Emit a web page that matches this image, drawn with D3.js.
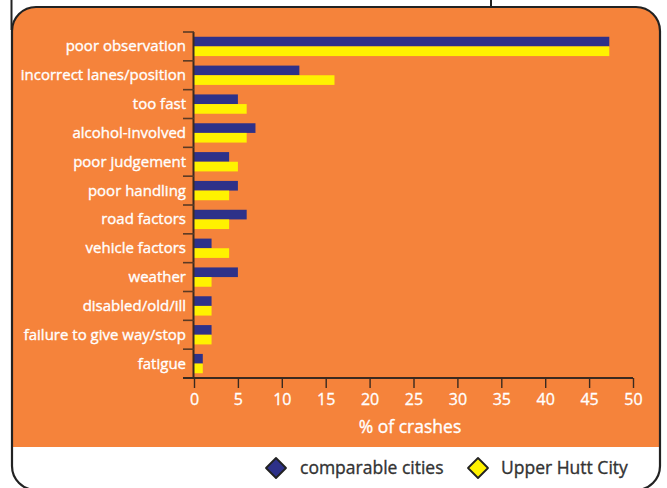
<!DOCTYPE html>
<html><head><meta charset="utf-8">
<script src="https://cdn.jsdelivr.net/npm/d3@7"></script>
<style>html,body{margin:0;padding:0;background:#fff;}svg{display:block;}</style>
</head><body>
<script>
const categories = ["poor observation","incorrect lanes/position","too fast","alcohol-involved","poor judgement","poor handling","road factors","vehicle factors","weather","disabled/old/ill","failure to give way/stop","fatigue"];
const seriesNames = ["comparable cities","Upper Hutt City"];
const comparableCities = [47.3,12,5,7,4,5,6,2,5,2,2,1];
const upperHuttCity = [47.3,16,6,6,5,4,4,4,2,2,2,1];
const xTicks = [0,5,10,15,20,25,30,35,40,45,50];
const axisTitle = "% of crashes";

const W = 667, H = 488;
const navy = "#2e3189", yellow = "#fff200", orange = "#f5833b";
const font = "'Open Sans', sans-serif";

const svg = d3.select("body").append("svg").attr("width", W).attr("height", H);

// frame
const defs = svg.append("defs");
defs.append("clipPath").attr("id","frameClip").append("rect")
  .attr("x",12).attr("y",7).attr("width",648).attr("height",483).attr("rx",24);
svg.append("line").attr("x1",11.5).attr("x2",11.5).attr("y1",0).attr("y2",30).attr("stroke","#222").attr("stroke-width",2);
svg.append("line").attr("x1",491).attr("x2",491).attr("y1",0).attr("y2",8).attr("stroke","#222").attr("stroke-width",2);
const g0 = svg.append("g").attr("clip-path","url(#frameClip)");
g0.append("rect").attr("x",0).attr("y",0).attr("width",W).attr("height",H).attr("fill","#fff");
g0.append("rect").attr("x",0).attr("y",0).attr("width",W).attr("height",447).attr("fill",orange);
svg.append("rect").attr("x",12).attr("y",7).attr("width",648).attr("height",483).attr("rx",24)
  .attr("fill","none").attr("stroke","#222").attr("stroke-width",2.2);

// scales
const x = d3.scaleLinear().domain([0,50]).range([194,633]);
const y = d3.scaleBand().domain(categories).range([32,378]).padding(0);
const sub = d3.scaleBand().domain(seriesNames).range([y.bandwidth()*0.165, y.bandwidth()*0.835]).padding(0);

const data = categories.map((c,i)=>({cat:c, vals:[{s:seriesNames[0],v:comparableCities[i],col:navy},{s:seriesNames[1],v:upperHuttCity[i],col:yellow}]}));

const groups = svg.append("g").selectAll("g").data(data).join("g")
  .attr("transform", d=>`translate(0,${y(d.cat)})`);
groups.selectAll("rect").data(d=>d.vals).join("rect")
  .attr("x", x(0)).attr("y", d=>sub(d.s)).attr("height", sub.bandwidth())
  .attr("width", d=>x(d.v)-x(0)).attr("fill", d=>d.col);

// y axis: line + ticks at band boundaries
const bounds = categories.map(c=>y(c)).concat([y.range()[1]]);
svg.append("line").attr("x1",193.5).attr("x2",193.5).attr("y1",32).attr("y2",378).attr("stroke","#3a2a20").attr("stroke-width",2);
svg.append("g").selectAll("line").data(bounds).join("line")
  .attr("x1",183).attr("x2",194).attr("y1",d=>d).attr("y2",d=>d)
  .attr("stroke","#5a3a25").attr("stroke-width",1.6);
svg.append("g").selectAll("text").data(categories).join("text")
  .attr("x",186).attr("y",d=>y(d)+y.bandwidth()/2).attr("dy","0.33em")
  .attr("text-anchor","end").attr("fill","#fff").attr("stroke","#fff").attr("stroke-width",0.35)
  .style("font-family",font).style("font-size","15px").text(d=>d);

// x axis
const xAxis = svg.append("g").attr("transform","translate(0,378)")
  .call(d3.axisBottom(x).tickValues(xTicks).tickSize(10).tickPadding(6).tickSizeOuter(0));
xAxis.select(".domain").attr("stroke","#3a2a20").attr("stroke-width",2).attr("d","M183,0H633");
xAxis.selectAll(".tick line").attr("stroke","#3a2a20").attr("stroke-width",1.4);
xAxis.selectAll(".tick text").attr("fill","#fff").attr("stroke","#fff").attr("stroke-width",0.3)
  .style("font-family",font).style("font-size","16px");
svg.append("text").attr("x",410).attr("y",433).attr("text-anchor","middle").attr("fill","#fff")
  .attr("stroke","#fff").attr("stroke-width",0.35)
  .style("font-family",font).style("font-size","17.5px").text(axisTitle);

// legend
const legend = [{name:seriesNames[0],col:navy,cx:276,tx:300},{name:seriesNames[1],col:yellow,cx:478,tx:501}];
const lg = svg.append("g").selectAll("g").data(legend).join("g");
lg.append("path").attr("d",d=>`M${d.cx-10},468L${d.cx},458L${d.cx+10},468L${d.cx},478Z`)
  .attr("fill",d=>d.col).attr("stroke","#222").attr("stroke-width",1.8).attr("stroke-linejoin","round");
lg.append("text").attr("x",d=>d.tx).attr("y",468).attr("dy","0.35em").attr("fill","#333")
  .attr("stroke","#333").attr("stroke-width",0.35)
  .style("font-family",font).style("font-size","17.5px").text(d=>d.name);
</script>
</body></html>
